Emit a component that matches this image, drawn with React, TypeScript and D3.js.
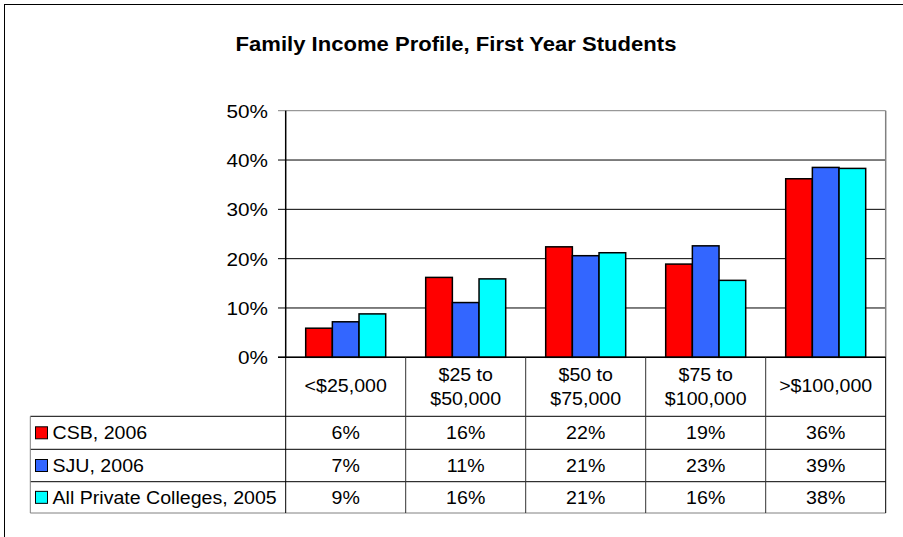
import React from "react";
import * as d3 from "d3";

const categories = ["<$25,000", "$25 to\n$50,000", "$50 to\n$75,000", "$75 to\n$100,000", ">$100,000"];
const seriesNames = ["CSB, 2006", "SJU, 2006", "All Private Colleges, 2005"];
const csb = [5.9, 16.2, 22.4, 18.9, 36.2];
const sju = [7.2, 11.1, 20.6, 22.6, 38.5];
const allPrivate = [8.8, 15.9, 21.2, 15.6, 38.3];
const yTicks = [0, 10, 20, 30, 40, 50];
const title = "Family Income Profile, First Year Students";

const seriesValues = [csb, sju, allPrivate];
const colors = ["#FF0000", "#3366FF", "#00FFFF"];

const W = 903, H = 537;
const L = 285.7, R = 885.7, T = 110.7, B = 357.3;
const rowLines = [357.3, 416.3, 449.3, 481.7, 513];
const tableLeft = 30.3;
const FONT = "Liberation Sans, Arial, sans-serif";
const SX = 1.12;

function T2({ x, y, anchor = "middle", size = 17.5, weight = "normal", children }: any) {
  return (
    <g transform={`translate(${x},${y}) scale(${SX},1)`}>
      <text x={0} y={0} textAnchor={anchor} fontFamily={FONT} fontSize={size} fontWeight={weight} fill="#000">
        {children}
      </text>
    </g>
  );
}

export default function App() {
  const x = d3.scaleBand<string>().domain(categories).range([L, R]).paddingInner(0).paddingOuter(0);
  const xi = d3.scaleBand<number>().domain([0, 1, 2]).range([20, 100]);
  const y = d3.scaleLinear().domain([0, 50]).range([B, T]);
  const fmt = (v: number) => `${Math.round(v)}%`;

  return (
    <svg width={W} height={H} style={{ position: "absolute", left: 0, top: 0, background: "#fff" }}>
      <rect x={0} y={0} width={W} height={H} fill="#fff" />
      <rect x={4.5} y={4.5} width={940} height={560} fill="none" stroke="#000" strokeWidth={1} />
      <T2 x={456} y={51} size={19.7} weight="bold">{title}</T2>

      {/* gridlines */}
      {yTicks.map((t) => (
        <line key={t} x1={278} x2={R} y1={y(t)} y2={y(t)} stroke={t === 50 ? "#808080" : "#000"} strokeWidth={1} />
      ))}
      <line x1={R} x2={R} y1={T} y2={B} stroke="#808080" strokeWidth={1.5} />
      {yTicks.map((t) => (
        <T2 key={"l" + t} x={268} y={y(t) + 7} anchor="end" size={18.5}>{`${t}%`}</T2>
      ))}

      {/* bars */}
      {categories.map((c, ci) =>
        seriesValues.map((vals, si) => (
          <rect
            key={c + si}
            x={(x(c) as number) + (xi(si) as number)}
            y={y(vals[ci])}
            width={xi.bandwidth()}
            height={B - y(vals[ci])}
            fill={colors[si]}
            stroke="#000"
            strokeWidth={1.5}
          />
        ))
      )}
      <line x1={L} x2={L} y1={T} y2={B} stroke="#000" strokeWidth={1.5} />
      <line x1={278} x2={R} y1={B} y2={B} stroke="#000" strokeWidth={1.5} />

      {/* table */}
      {rowLines.slice(1).map((ry, i) => (
        <line key={"r" + i} x1={tableLeft} x2={R} y1={ry} y2={ry} stroke={i === 3 ? "#808080" : "#000"} strokeWidth={1} />
      ))}
      <line x1={tableLeft} x2={tableLeft} y1={rowLines[1]} y2={rowLines[4]} stroke="#808080" strokeWidth={1} />
      {[...categories.map((c) => x(c) as number), R].map((vx, i) => (
        <line key={"v" + i} x1={vx} x2={vx} y1={B} y2={rowLines[4]} stroke={i === 0 || i === 5 ? "#000" : "#333"} strokeWidth={1} />
      ))}
      {categories.map((c) => {
        const cx = (x(c) as number) + x.bandwidth() / 2;
        const lines = c.split("\n");
        return lines.length === 1 ? (
          <T2 key={c} x={cx} y={392}>{c}</T2>
        ) : (
          <g key={c}>
            <T2 x={cx} y={381}>{lines[0]}</T2>
            <T2 x={cx} y={405}>{lines[1]}</T2>
          </g>
        );
      })}
      {seriesNames.map((s, si) => {
        const top = rowLines[si + 1];
        const mid = (top + rowLines[si + 2]) / 2;
        return (
          <g key={s}>
            <rect x={35.5} y={mid - 6} width={12} height={12} fill={colors[si]} stroke="#000" strokeWidth={1} />
            <T2 x={52.5} y={mid + 6.5} anchor="start">{s}</T2>
            {categories.map((c, ci) => (
              <T2 key={c} x={(x(c) as number) + x.bandwidth() / 2} y={mid + 6.5}>{fmt(seriesValues[si][ci])}</T2>
            ))}
          </g>
        );
      })}
    </svg>
  );
}
